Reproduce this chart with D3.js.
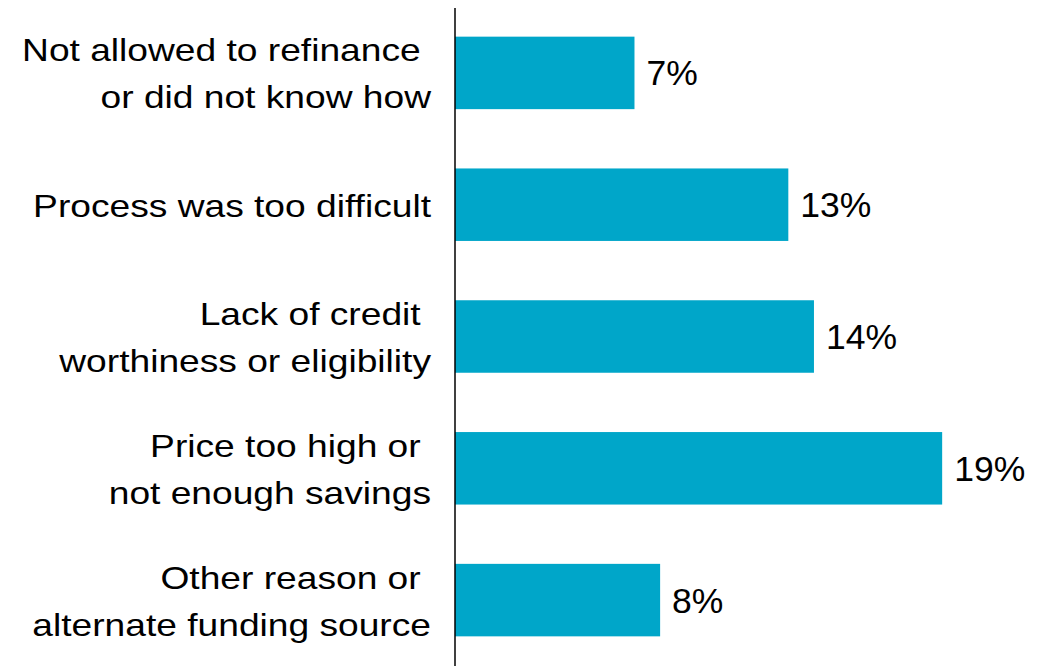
<!DOCTYPE html>
<html>
<head>
<meta charset="utf-8">
<script src="https://cdn.jsdelivr.net/npm/d3@7/dist/d3.min.js"></script>
<style>
  html, body { margin: 0; padding: 0; background: #fff; }
  svg text { font-family: "Liberation Sans", Arial, sans-serif; white-space: pre; }
</style>
</head>
<body>
<svg id="chart" width="1045" height="666"></svg>
<script>
// Reasons for not refinancing (share of respondents, %)
const categories = [
  ["Not allowed to refinance ", "or did not know how"],
  ["Process was too difficult"],
  ["Lack of credit ", "worthiness or eligibility"],
  ["Price too high or ", "not enough savings"],
  ["Other reason or ", "alternate funding source"]
];
const values = [7, 13, 14, 19, 8];
const valueLabels = ["7%", "13%", "14%", "19%", "8%"];

const svg = d3.select("#chart");
const axisX = 455;
const labelRight = 431;

const x = d3.scaleLinear().domain([0, 20]).range([axisX, axisX + 512.8]);
const y = d3.scaleBand()
  .domain(d3.range(values.length))
  .range([7, 666])
  .paddingInner(0.45)
  .paddingOuter(0.225);

// bars
svg.selectAll("rect.bar")
  .data(values)
  .join("rect")
  .attr("class", "bar")
  .attr("x", x(0))
  .attr("y", (d, i) => y(i))
  .attr("width", d => x(d) - x(0))
  .attr("height", y.bandwidth())
  .attr("fill", "#00A6C9");

// value labels
svg.selectAll("text.val")
  .data(values)
  .join("text")
  .attr("class", "val")
  .attr("x", d => x(d) + 12)
  .attr("y", (d, i) => y(i) + y.bandwidth() / 2 + 12.5)
  .attr("font-size", 35.5)
  .attr("fill", "#000")
  .text((d, i) => valueLabels[i]);

// category labels, right-aligned against the axis (wide set type)
const lineGap = 47;
const cats = svg.selectAll("text.cat")
  .data(categories)
  .join("text")
  .attr("class", "cat")
  .attr("text-anchor", "end")
  .attr("font-size", 31.5)
  .attr("fill", "#000")
  .attr("transform", `translate(${labelRight},0) scale(1.18,1) translate(${-labelRight},0)`);

cats.each(function (lines, i) {
  const cy = y(i) + y.bandwidth() / 2;
  const top = cy - (lines.length - 1) * lineGap / 2 + 12;
  d3.select(this).selectAll("tspan")
    .data(lines)
    .join("tspan")
    .attr("x", labelRight)
    .attr("y", (d, j) => top + j * lineGap)
    .text(d => d);
});

// vertical axis line
svg.append("line")
  .attr("x1", axisX).attr("x2", axisX)
  .attr("y1", 8).attr("y2", 666)
  .attr("stroke", "#000")
  .attr("stroke-width", 1.5);
</script>
</body>
</html>
